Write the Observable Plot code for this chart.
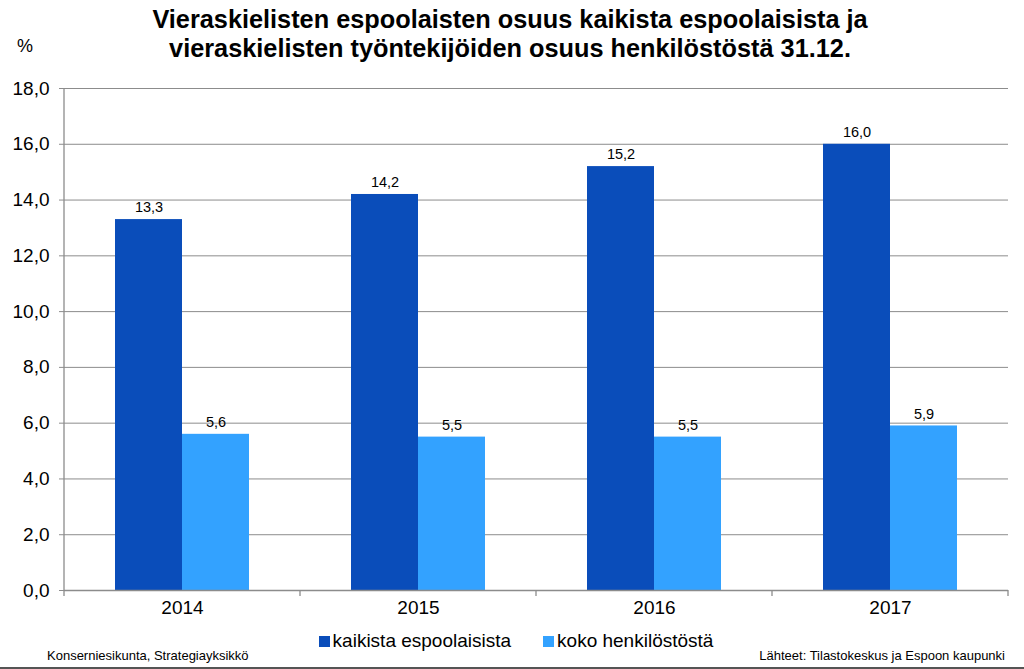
<!DOCTYPE html>
<html>
<head>
<meta charset="utf-8">
<script src="https://cdn.jsdelivr.net/npm/d3@7"></script>
<script src="https://cdn.jsdelivr.net/npm/@observablehq/plot@0.6"></script>
<style>
  body { margin: 0; background: #fff; font-family: "Liberation Sans", Arial, sans-serif; }
  #wrap { position: relative; width: 1024px; height: 669px; overflow: hidden; }
  #title { position: absolute; left: 0; width: 1020px; top: 5px; text-align: center; font-weight: bold; font-size: 25.3px; line-height: 29px; color: #000; }
  #pct { position: absolute; left: 17px; top: 36px; font-size: 18px; }
  #legend { position: absolute; top: 630px; left: 0; width: 1024px; display: flex; justify-content: center; font-size: 19px; gap: 32px; padding-left: 8px; box-sizing: border-box; }
  #legend .item { display: flex; align-items: center; }
  #legend .sw { width: 11px; height: 11px; margin-right: 3px; display: inline-block; }
  #src1 { position: absolute; left: 47px; top: 648px; font-size: 13px; }
  #src2 { position: absolute; right: 19px; top: 648px; font-size: 13px; }
  #bottomline { position: absolute; left: 0; right: 0; top: 667px; height: 2px; background: #555; }
  #chart { position: absolute; left: 0; top: 0; }
</style>
</head>
<body>
<div id="wrap">
  <div id="chart"></div>
  <div id="title"></div>
  <div id="pct">%</div>
  <div id="legend"></div>
  <div id="src1"></div>
  <div id="src2"></div>
  <div id="bottomline"></div>
</div>
<script>
const titleLines = ["Vieraskielisten espoolaisten osuus kaikista espoolaisista ja", "vieraskielisten työntekijöiden osuus henkilöstöstä 31.12."];
const years = ["2014", "2015", "2016", "2017"];
const seriesNames = ["kaikista espoolaisista", "koko henkilöstöstä"];
const kaikista = [13.3, 14.2, 15.2, 16.0];
const koko = [5.6, 5.5, 5.5, 5.9];
const yTicks = [0, 2, 4, 6, 8, 10, 12, 14, 16, 18];
const colors = ["#0A4DBA", "#33A2FF"];
const sourceLeft = "Konserniesikunta, Strategiayksikkö";
const sourceRight = "Lähteet: Tilastokeskus ja Espoon kaupunki";

const fmt = d => d.toFixed(1).replace(".", ",");

const data = [];
years.forEach((yr, i) => {
  data.push({year: yr, series: seriesNames[0], value: kaikista[i]});
  data.push({year: yr, series: seriesNames[1], value: koko[i]});
});

const font = "'Liberation Sans', Arial, sans-serif";

const plot = Plot.plot({
  width: 1024,
  height: 669,
  marginTop: 88,
  marginBottom: 79,
  marginLeft: 63,
  marginRight: 15,
  style: {fontFamily: font, background: "transparent", color: "#000"},
  fx: {domain: years, padding: 0, label: null},
  x: {domain: seriesNames, paddingInner: 0, paddingOuter: 0.756, axis: null},
  y: {domain: [0, 18], label: null},
  color: {domain: seriesNames, range: colors},
  marks: [
    Plot.gridY(yTicks, {stroke: "#8c8c8c", strokeOpacity: 1, strokeWidth: 1}),
    Plot.barY(data, {fx: "year", x: "series", y: "value", fill: "series"}),
    Plot.ruleY([0], {stroke: "#8c8c8c", strokeWidth: 1.3}),
    Plot.text(data, {fx: "year", x: "series", y: "value", text: d => fmt(d.value), dy: -12, fontSize: 14.5, fill: "#000"}),
    Plot.axisY(yTicks, {tickSize: 5, tickPadding: 10, tickFormat: fmt, fontSize: 19, stroke: "#8c8c8c", fill: "#000", label: null}),
    Plot.axisFx({anchor: "bottom", tickSize: 0, tickPadding: 10, fontSize: 19, fill: "#000", label: null})
  ]
});

document.getElementById("chart").appendChild(plot);

// Axis line and category boundary ticks drawn from the plot's own scales
const fxs = plot.scale("fx");
const ys = plot.scale("y");
const svg = d3.select(plot);
const g = svg.append("g").attr("stroke", "#8c8c8c").attr("stroke-width", 1.3);
const y0 = ys.apply(0), yTop = ys.apply(18);
const left = fxs.apply(years[0]);
g.append("line").attr("x1", left).attr("x2", left).attr("y1", yTop).attr("y2", y0 + 6);
years.forEach(yr => {
  const xr = fxs.apply(yr) + fxs.bandwidth;
  g.append("line").attr("x1", xr).attr("x2", xr).attr("y1", y0).attr("y2", y0 + 6);
});

document.getElementById("title").innerHTML = titleLines.join("<br>");
document.getElementById("src1").textContent = sourceLeft;
document.getElementById("src2").textContent = sourceRight;
const legend = document.getElementById("legend");
seriesNames.forEach((s, i) => {
  const it = document.createElement("div");
  it.className = "item";
  const sw = document.createElement("span");
  sw.className = "sw";
  sw.style.background = colors[i];
  it.appendChild(sw);
  it.appendChild(document.createTextNode(s));
  legend.appendChild(it);
});
</script>
</body>
</html>
